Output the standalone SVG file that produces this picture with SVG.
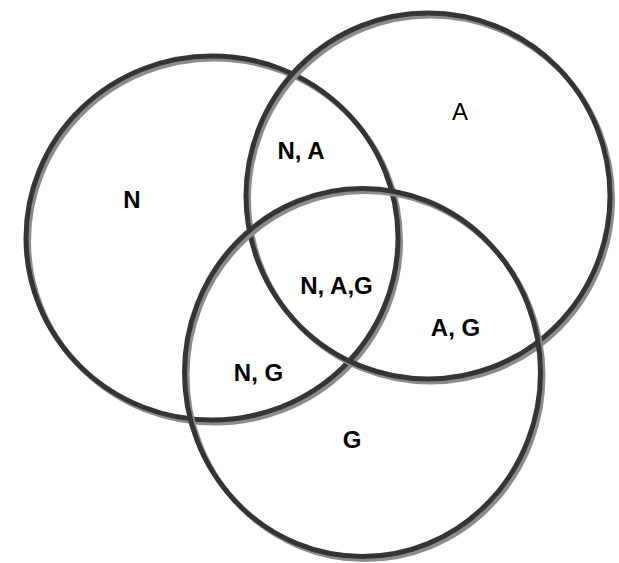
<svg xmlns="http://www.w3.org/2000/svg" width="619" height="563" viewBox="0 0 619 563">
<style>
.sh{fill:none;stroke:#8c8c8c;stroke-width:5}
.ring{fill:none;stroke:#353535;stroke-width:5}
.lb{font-family:"Liberation Sans",Arial,sans-serif;font-size:24px;font-weight:bold;fill:#000;text-anchor:middle}
.lr{font-family:"Liberation Sans",Arial,sans-serif;font-size:24px;fill:#000;text-anchor:middle}
</style>
<rect width="619" height="563" fill="#fff"/>
<g id="set-N">
<ellipse class="sh" cx="214.5" cy="241" rx="186" ry="182"/>
<ellipse class="ring" cx="212" cy="238" rx="186" ry="182"/>
</g>
<g id="set-A">
<ellipse class="sh" cx="430.5" cy="199" rx="182" ry="183"/>
<ellipse class="ring" cx="428" cy="196" rx="182" ry="183"/>
</g>
<g id="set-G">
<ellipse class="sh" cx="365" cy="375.5" rx="178" ry="184"/>
<ellipse class="ring" cx="362.5" cy="372.5" rx="178" ry="184"/>
</g>
<g id="labels">
<text class="lb" x="132" y="208">N</text>
<text class="lr" x="460" y="120">A</text>
<text class="lb" x="301" y="159">N, A</text>
<text class="lb" x="336.5" y="294">N, A,G</text>
<text class="lb" x="455.5" y="336">A, G</text>
<text class="lb" x="258.5" y="381">N, G</text>
<text class="lb" x="352" y="448">G</text>
</g>
</svg>
